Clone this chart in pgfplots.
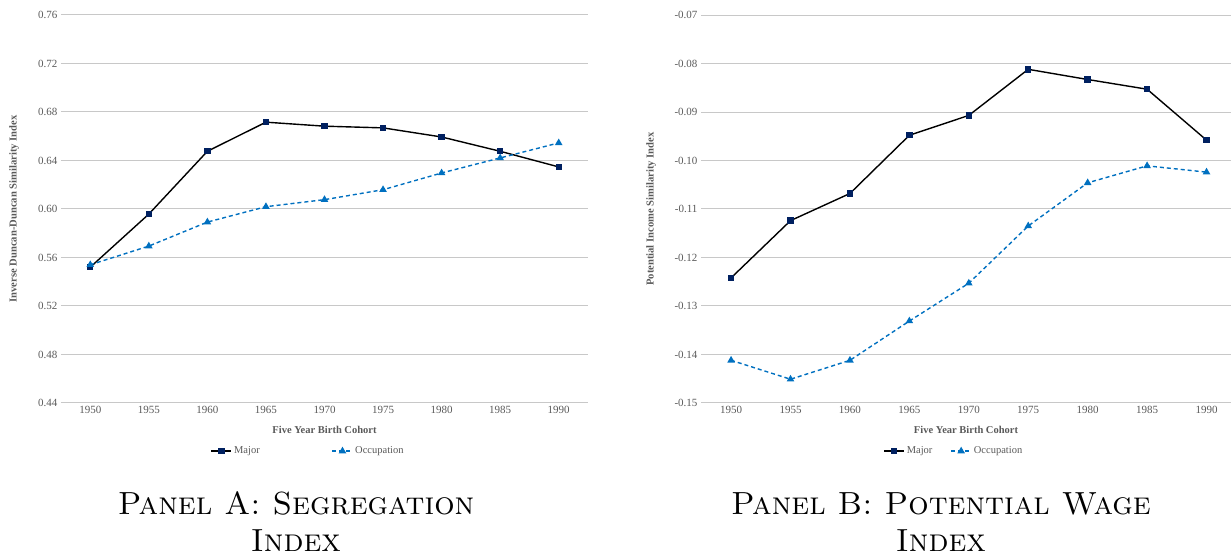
\documentclass[border=0pt]{standalone}
\usepackage{fontspec}
\newfontfamily\tnr{Liberation Serif}
\usepackage{pgfplots}
\pgfplotsset{compat=1.18}
\definecolor{gridgray}{HTML}{C8C8C8}
\definecolor{txtgray}{HTML}{595959}
\definecolor{majorblue}{HTML}{002060}
\definecolor{occblue}{HTML}{0070C0}
\pgfplotsset{
  mystyle/.style={
    scale only axis, height=388pt, anchor=south west,
    axis line style={draw=none}, tick style={draw=none},
    ymajorgrids, major grid style={gridgray, line width=1pt},
    xtick={1950,1955,...,1990},
    /pgf/number format/assume math mode=true,
    x tick label style={font=\tnr\fontsize{11}{13}\selectfont, text=txtgray, /pgf/number format/1000 sep={}},
    y tick label style={font=\tnr\fontsize{11}{13}\selectfont, text=txtgray, /pgf/number format/fixed, /pgf/number format/fixed zerofill, /pgf/number format/precision=2},
    xlabel={Five Year Birth Cohort},
    every axis x label/.style={at={(axis description cs:0.5,-0.0696)}, anchor=center, font=\tnr\bfseries\fontsize{10.5}{12}\selectfont, text=txtgray},
    legend columns=2,
    legend style={draw=none, fill=none, font=\tnr\fontsize{10.5}{12}\selectfont, text=txtgray, anchor=center},
    legend image code/.code={\draw[mark repeat=2,mark phase=2,##1] plot coordinates {(0pt,0pt)(10pt,0pt)(20pt,0pt)};},
  },
  majorline/.style={black, line width=1.4pt, mark=square*, mark size=2.5pt, mark options={solid, fill=majorblue, draw=majorblue}},
  occline/.style={occblue, line width=1.4pt, dash pattern=on 4pt off 3pt, mark=triangle*, mark size=3pt, mark options={solid, fill=occblue, draw=occblue}},
}
\begin{document}
\begin{tikzpicture}
\path[use as bounding box] (0,0) rectangle (1231pt,556pt);
% Panel A
\begin{axis}[mystyle, at={(61pt,153pt)}, width=527pt,
  xmin=1947.5, xmax=1992.5, ymin=0.44, ymax=0.76,
  ytick={0.44,0.48,0.52,0.56,0.60,0.64,0.68,0.72,0.76},
  ylabel={Inverse Duncan-Duncan Similarity Index},
  every axis y label/.style={at={(axis description cs:-0.089,0.5)}, rotate=90, anchor=center, font=\tnr\bfseries\fontsize{10.6}{12}\selectfont, text=txtgray},
  legend style={at={(axis description cs:0.469,-0.124)}, /tikz/every even column/.append style={column sep=70pt}},
]
\addplot[majorline] coordinates {(1950,0.552) (1955,0.5958) (1960,0.6476) (1965,0.6716) (1970,0.6683) (1975,0.6669) (1980,0.6594) (1985,0.6476) (1990,0.6347)};
\addlegendentry{Major}
\addplot[occline] coordinates {(1950,0.554) (1955,0.5694) (1960,0.5892) (1965,0.6019) (1970,0.6077) (1975,0.6159) (1980,0.6297) (1985,0.6421) (1990,0.6545)};
\addlegendentry{Occupation}
\end{axis}
% Panel B
\begin{axis}[mystyle, at={(701pt,153pt)}, width=530pt,
  xmin=1947.47, xmax=1992.06, ymin=-0.15, ymax=-0.07,
  ytick={-0.15,-0.14,-0.13,-0.12,-0.11,-0.10,-0.09,-0.08,-0.07},
  ylabel={Potential Income Similarity Index},
  every axis y label/.style={at={(axis description cs:-0.094,0.5)}, rotate=90, anchor=center, font=\tnr\bfseries\fontsize{10.6}{12}\selectfont, text=txtgray},
  legend style={at={(axis description cs:0.477,-0.124)}, /tikz/every even column/.append style={column sep=16pt}},
]
\addplot[majorline] coordinates {(1950,-0.1242) (1955,-0.1124) (1960,-0.1068) (1965,-0.0948) (1970,-0.0907) (1975,-0.0812) (1980,-0.0833) (1985,-0.0853) (1990,-0.0958)};
\addlegendentry{Major}
\addplot[occline] coordinates {(1950,-0.1412) (1955,-0.1451) (1960,-0.1412) (1965,-0.1331) (1970,-0.1253) (1975,-0.1135) (1980,-0.1046) (1985,-0.1011) (1990,-0.1024)};
\addlegendentry{Occupation}
\end{axis}
% Captions
\node[anchor=base, inner sep=0pt, font=\fontsize{32}{38}\selectfont\scshape] at (296pt,41pt) {Panel A: Segregation};
\node[anchor=base, inner sep=0pt, font=\fontsize{32}{38}\selectfont\scshape] at (296pt,4pt) {Index};
\node[anchor=base, inner sep=0pt, font=\fontsize{32}{38}\selectfont\scshape] at (941pt,41pt) {Panel B: Potential Wage};
\node[anchor=base, inner sep=0pt, font=\fontsize{32}{38}\selectfont\scshape] at (941pt,4pt) {Index};
\end{tikzpicture}
\end{document}
